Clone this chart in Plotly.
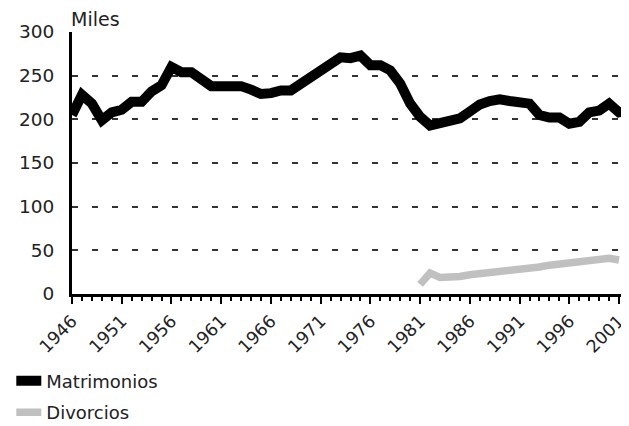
import plotly.graph_objects as go

years_m = list(range(1946, 2003))
matrimonios = [205, 228, 218, 199, 208, 211, 220, 220, 232, 239,
               260, 254, 254, 245, 238, 238, 238, 238, 234, 229,
               230, 233, 233, 241, 249, 255, 262, 271, 270, 273,
               262, 262, 256, 241, 218, 203, 193, 196, 199, 201,
               209, 217, 221, 223, 221, 219, 218, 205, 202, 202,
               195, 197, 208, 210, 218, 208, 210]

years_d = list(range(1981, 2002))
divorcios = [11, 24, 19, 19, 20, 22, 23, 24, 26, 27,
             29, 30, 31, 33, 34, 35, 36, 38, 39, 41, 39]

x_ticks = list(range(1946, 2002, 5))
y_ticks = [0, 50, 100, 150, 200, 250, 300]

fig = go.Figure()
fig.add_trace(go.Scatter(x=years_m, y=matrimonios, mode="lines", name="Matrimonios",
                         legendgroup="m",
                         line=dict(color="black", width=10), cliponaxis=False))
fig.add_trace(go.Scatter(x=years_d, y=divorcios, mode="lines", name="Divorcios",
                         legendgroup="d",
                         line=dict(color="#c0c0c0", width=7.5), cliponaxis=False))

font = "DejaVu Sans, Liberation Sans, Arial, sans-serif"
fig.update_layout(
    width=629, height=446,
    margin=dict(l=61, r=8, t=24, b=160),
    paper_bgcolor="white", plot_bgcolor="white",
    font=dict(family=font, color="#222", size=18),
    showlegend=True,
    legend=dict(x=-0.1, y=-0.262, xanchor="left", yanchor="top",
                font=dict(size=18, family=font, color="#222"),
                traceorder="grouped", tracegroupgap=5, itemwidth=30,
                indentation=-10,
                bgcolor="rgba(0,0,0,0)"),
    xaxis=dict(range=[1946, 2002], tickmode="array", tickvals=x_ticks,
               ticktext=[str(v) for v in x_ticks], tickangle=-45,
               ticks="outside", ticklen=7, tickwidth=2, tickcolor="black",
               minor=dict(dtick=1, tick0=1946, ticks="outside", ticklen=4,
                          tickwidth=1.5, tickcolor="black", showgrid=False),
               showline=True, linecolor="black", linewidth=3,
               showgrid=False, zeroline=False, automargin=False,
               tickfont=dict(size=17.5, family=font, color="#222")),
    yaxis=dict(range=[0, 300], tickmode="array", tickvals=y_ticks,
               ticks="", showline=True, linecolor="black", linewidth=3,
               showgrid=True, gridcolor="#333", gridwidth=2,
               griddash="6px,14px", zeroline=False, ticklabelstandoff=11,
               automargin=False,
               tickfont=dict(size=18.5, family=font, color="#222")),
    annotations=[dict(text="Miles", x=0, y=1.0, xref="paper", yref="paper",
                      xanchor="left", yanchor="bottom", xshift=-3, showarrow=False,
                      font=dict(size=19, family=font, color="#222"))],
)

fig.write_html("out.html")
